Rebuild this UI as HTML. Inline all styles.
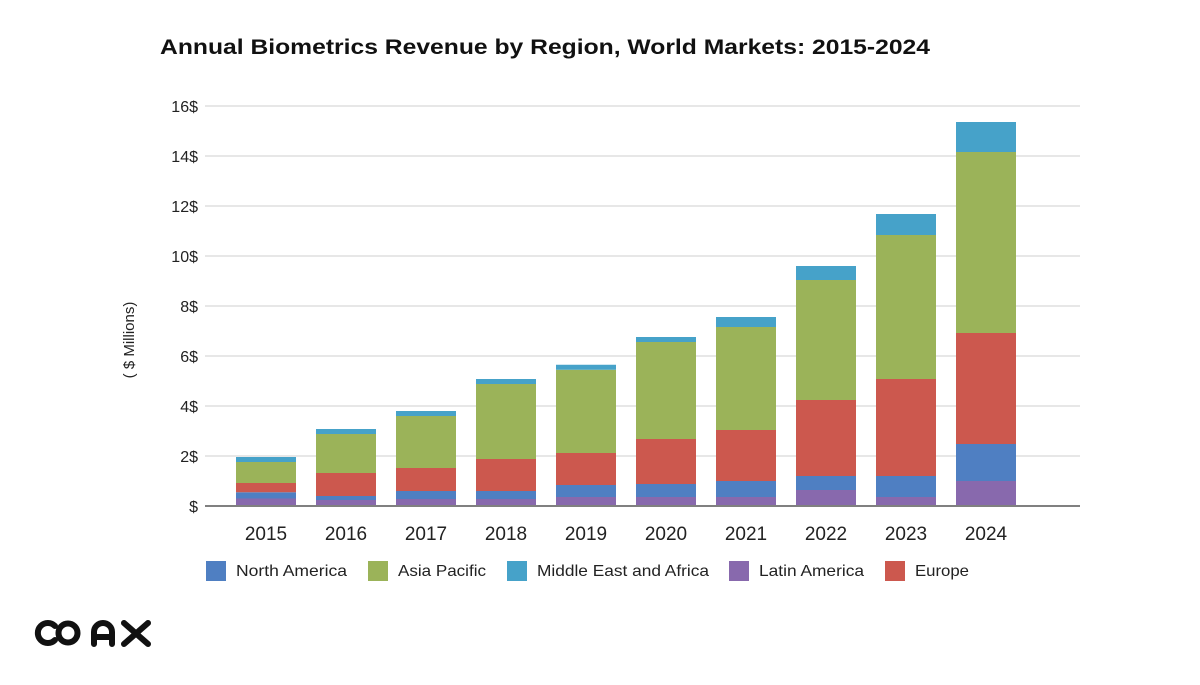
<!DOCTYPE html>
<html><head><meta charset="utf-8"><style>
body{margin:0;background:#fff;}
svg text{font-family:"Liberation Sans",sans-serif;}
</style></head><body>
<svg id="c" width="1200" height="680" viewBox="0 0 1200 680">
<text x="160" y="54" font-size="21" font-weight="bold" textLength="770" lengthAdjust="spacingAndGlyphs" fill="#111">Annual Biometrics Revenue by Region, World Markets: 2015-2024</text>
<text transform="translate(134,340) rotate(-90)" font-size="15" fill="#222" text-anchor="middle">( $ Millions)</text>
<g id="grid"></g><g id="bars"></g><g id="xl"></g><g id="legend"></g>
<g fill="none" stroke="#111" stroke-width="6" stroke-linecap="round">
<path d="M55 626 A10 10 0 1 0 55 640"/>
<circle cx="68" cy="633" r="9.5"/>
<path d="M94 644 L94 632 A9 9 0 0 1 112 632 L112 644 M95 637 L111 637"/>
<path d="M124 623 L148 644 M148 623 L124 644"/>
</g>
</svg>
<script>
const years=['2015','2016','2017','2018','2019','2020','2021','2022','2023','2024'];
const latinAmerica=[0.3,0.24,0.28,0.28,0.36,0.36,0.36,0.64,0.36,1.0];
const northAmerica=[0.25,0.16,0.32,0.32,0.48,0.52,0.64,0.56,0.84,1.48];
const europe=[0.37,0.92,0.92,1.28,1.28,1.8,2.04,3.04,3.88,4.44];
const asiaPacific=[0.84,1.56,2.08,3.0,3.33,3.88,4.12,4.8,5.76,7.24];
const middleEast=[0.2,0.2,0.2,0.2,0.2,0.2,0.4,0.56,0.84,1.2];
const yTicks=[0,2,4,6,8,10,12,14,16];
const yTickLabels=['$','2$','4$','6$','8$','10$','12$','14$','16$'];
const NS='http://www.w3.org/2000/svg';
const X0=205,X1=1080,Y0=506,PPU=25,STEP=80,BW=60;
const y=v=>Y0-v*PPU, xc=i=>266+i*STEP;
function mk(t,a,p){const e=document.createElementNS(NS,t);for(const k in a)e.setAttribute(k,a[k]);p.appendChild(e);return e;}
const grid=document.getElementById('grid');
yTicks.forEach((v,i)=>{
 if(v>0){const l=mk('line',{x1:X0,x2:X1,y1:y(v),y2:y(v),stroke:'#cfcfcf','stroke-width':1},grid);
 
 }
 const t=mk('text',{x:198,y:y(v)+6,'font-size':16,'text-anchor':'end',fill:'#222'},grid);t.textContent=yTickLabels[i];
 
 
});
const series=[['latin-america',latinAmerica,'#8869ad'],['north-america',northAmerica,'#4f7fc2'],['europe',europe,'#cc584e'],['asia-pacific',asiaPacific,'#9bb359'],['middle-east-africa',middleEast,'#46a2c9']];
const bars=document.getElementById('bars');
years.forEach((yr,i)=>{
 let acc=0;
 series.forEach(s=>{
  const v=s[1][i];
  const r=mk('rect',{x:xc(i)-BW/2,y:y(acc+v),width:BW,height:v*PPU,fill:s[2]},bars);
  
  
  acc+=v;
 });
 const t=mk('text',{x:xc(i),y:540,'font-size':19,'text-anchor':'middle',fill:'#222'},document.getElementById('xl'));t.textContent=yr;
 
 
});
const ax=mk('line',{x1:X0,x2:X1,y1:Y0,y2:Y0,stroke:'#808080','stroke-width':2},bars);


const leg=[['North America','#4f7fc2',206,111],['Asia Pacific','#9bb359',368,88],['Middle East and Africa','#46a2c9',507,172],['Latin America','#8869ad',729,105],['Europe','#cc584e',885,54]];
const lg=document.getElementById('legend');
leg.forEach(l=>{
 const g=mk('g',{},lg);
 
 
 mk('rect',{x:l[2],y:561,width:20,height:20,fill:l[1]},g);
 const t=mk('text',{x:l[2]+30,y:576,'font-size':16,fill:'#222',textLength:l[3],lengthAdjust:'spacingAndGlyphs'},g);t.textContent=l[0];
});
</script>
</body></html>
